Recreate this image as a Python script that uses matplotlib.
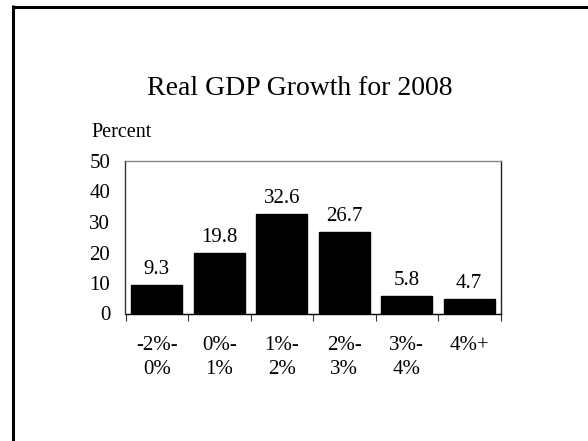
import numpy as np
import matplotlib
matplotlib.use("Agg")
import matplotlib.pyplot as plt
from matplotlib.lines import Line2D

plt.rcParams['font.family'] = ['Liberation Serif', 'DejaVu Serif']

# data
categories = ["-2%-\n0%", "0%-\n1%", "1%-\n2%", "2%-\n3%", "3%-\n4%", "4%+\n"]
values = [9.3, 19.8, 32.6, 26.7, 5.8, 4.7]
yticks = [0, 10, 20, 30, 40, 50]

W, H = 588, 441
fig = plt.figure(figsize=(W / 100, H / 100), dpi=100)

# slide border (top + left only)
fig.add_artist(Line2D([12.5 / W, 1.0], [1 - 6.5 / H, 1 - 6.5 / H],
                      transform=fig.transFigure, color="black", lw=2.2,
                      solid_capstyle="butt"))
fig.add_artist(Line2D([12.5 / W, 12.5 / W], [0.0, 1 - 5.0 / H],
                      transform=fig.transFigure, color="black", lw=2.2,
                      solid_capstyle="butt"))

ax = fig.add_axes([125.5 / W, 1 - 313.5 / H, 375 / W, 152.5 / H])

x = np.arange(len(values))
bars = ax.bar(x, values, width=0.81, color="black", edgecolor="black")

for xi, v in zip(x, values):
    ax.annotate(f"{v:.1f}", (xi, v), xytext=(0, 4.5), textcoords="offset points",
                ha="center", va="bottom", fontsize=15)

ax.set_xlim(-0.5, len(values) - 0.5)
ax.set_ylim(0, 50)
ax.set_yticks(yticks)
ax.tick_params(axis="y", length=0, pad=11, labelsize=15)

ax.set_xticks(x)
ax.set_xticklabels(categories, fontsize=15, linespacing=1.35)
ax.tick_params(axis="x", which="major", length=0, pad=16)
ax.set_xticks(np.arange(-0.5, len(values)), minor=True)
ax.tick_params(axis="x", which="minor", length=5, width=0.8, color="#333333")

ax.spines["top"].set_color("#888888")
ax.spines["left"].set_color("#333333")
ax.spines["right"].set_color("#222222")
ax.spines["bottom"].set_color("black")
for s in ax.spines.values():
    s.set_linewidth(1.0)

fig.text(300 / W, 1 - 95 / H, "Real GDP Growth for 2008", ha="center",
         va="baseline", fontsize=20)
fig.text(91 / W, 1 - 137 / H, "Percent", ha="left", va="baseline", fontsize=14.5)

fig.savefig("out.png", dpi=100)
